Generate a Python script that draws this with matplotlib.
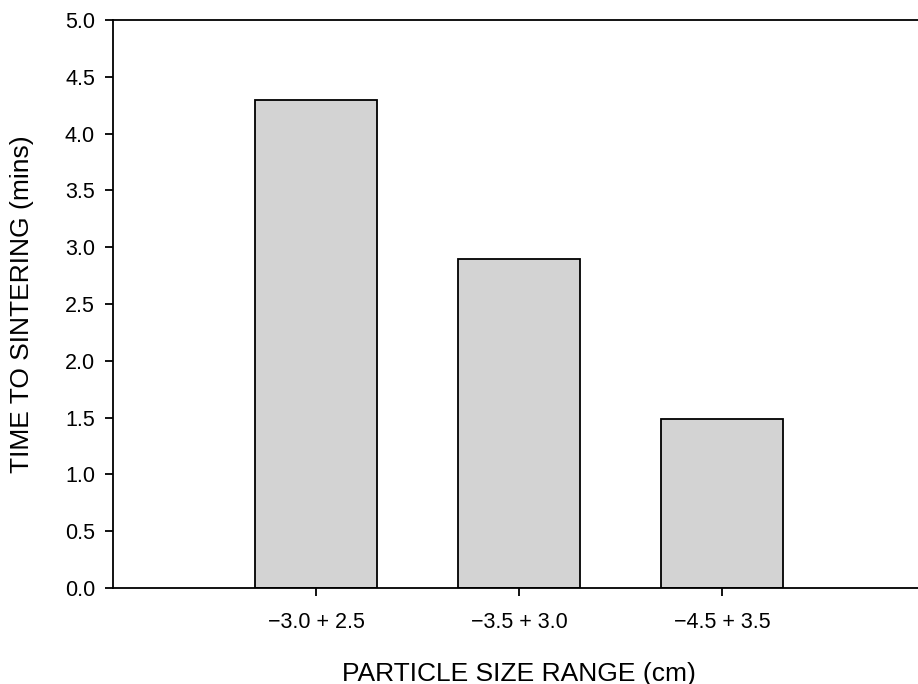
import numpy as np
import matplotlib
matplotlib.use('Agg')
import matplotlib.pyplot as plt

plt.rcParams['font.family'] = ['Liberation Sans', 'DejaVu Sans']

# data
categories = ['\u22123.0 + 2.5', '\u22123.5 + 3.0', '\u22124.5 + 3.5']
times = [4.3, 2.9, 1.49]
yticks = [0.0, 0.5, 1.0, 1.5, 2.0, 2.5, 3.0, 3.5, 4.0, 4.5, 5.0]

fig = plt.figure(figsize=(9.18, 6.84), dpi=100)
ax = fig.add_axes([113/918, 1-588/684, 812/918, 568/684])

x = np.arange(1, len(categories) + 1)
ax.bar(x, times, width=0.6, color='#d3d3d3', edgecolor='black', linewidth=1.3)

ax.set_xlim(0, 4)
ax.set_ylim(0, 5)
ax.set_xticks(x)
ax.set_xticklabels(categories)
ax.set_yticks(yticks)
ax.set_yticklabels(['%.1f' % v for v in yticks])

for s in ['left', 'bottom', 'top', 'right']:
    ax.spines[s].set_linewidth(1.3)
ax.tick_params(direction='out', length=6, width=1.3, labelsize=15.5)
ax.tick_params(axis='x', pad=11)
ax.tick_params(axis='y', pad=7)

ax.set_xlabel('PARTICLE SIZE RANGE (cm)', fontsize=19)
ax.set_ylabel('TIME TO SINTERING (mins)', fontsize=19)
ax.xaxis.set_label_coords(0.5, -0.13)
ax.yaxis.set_label_coords(-0.097, 0.5)

fig.savefig('out.png', dpi=100)
